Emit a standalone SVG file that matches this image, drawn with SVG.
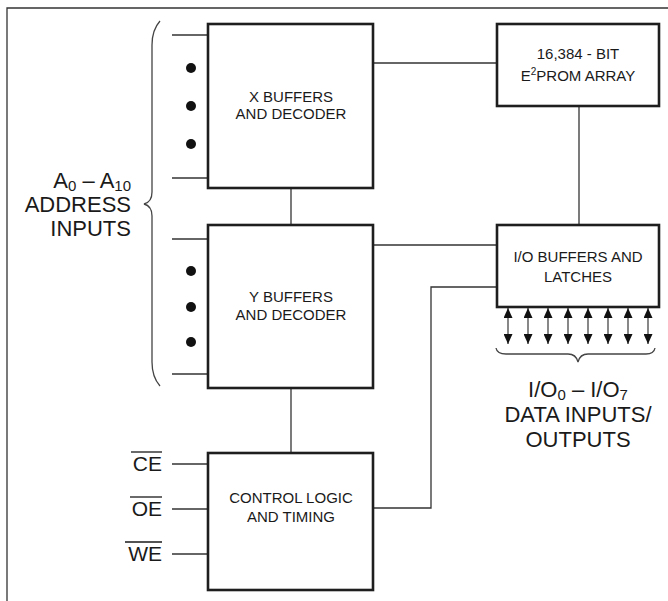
<svg xmlns="http://www.w3.org/2000/svg" width="668" height="601" viewBox="0 0 668 601">
  <style>
    .box { fill: #fff; stroke: #1e1e1e; stroke-width: 2.6; }
    .wire { fill: none; stroke: #333; stroke-width: 1.3; }
    .data { stroke: #555; stroke-width: 1.4; }
    .brace { fill: none; stroke: #444; stroke-width: 1.3; }
    .lbl { font-family: "Liberation Sans", Arial, sans-serif; font-size: 15px; fill: #1a1a1a; text-anchor: middle; }
    .big { font-family: "Liberation Sans", Arial, sans-serif; font-size: 22px; fill: #1a1a1a; }
    .sig { font-family: "Liberation Sans", Arial, sans-serif; font-size: 21px; fill: #1a1a1a; text-anchor: end; }
    .dot { fill: #111; }
  </style>
  <defs>
    <marker id="ah" viewBox="0 0 10 9" refX="10" refY="4.5" markerWidth="10" markerHeight="9" markerUnits="userSpaceOnUse" orient="auto-start-reverse">
      <path d="M0,0 L10,4.5 L0,9 z" fill="#111"/>
    </marker>
  </defs>

  <rect width="668" height="601" fill="#fff"/>
  <!-- frame -->
  <path class="wire" d="M7,601 L7,8 L668,8" stroke="#555"/>

  <!-- connectors -->
  <g id="connectors">
    <!-- address inputs into X -->
    <line class="wire" x1="172" y1="35" x2="208" y2="35"/>
    <line class="wire" x1="172" y1="178" x2="208" y2="178"/>
    <!-- address inputs into Y -->
    <line class="wire" x1="172" y1="239" x2="208" y2="239"/>
    <line class="wire" x1="172" y1="374" x2="208" y2="374"/>
    <!-- X to Y -->
    <line class="wire" x1="291" y1="188" x2="291" y2="225"/>
    <!-- Y to control -->
    <line class="wire" x1="291" y1="388" x2="291" y2="453"/>
    <!-- X to array -->
    <line class="wire" x1="373" y1="63" x2="497" y2="63"/>
    <!-- array to I/O -->
    <line class="wire" x1="579" y1="106" x2="579" y2="225"/>
    <!-- Y to I/O -->
    <line class="wire" x1="373" y1="245" x2="497" y2="245"/>
    <!-- control to I/O -->
    <path class="wire" d="M373,508 L431,508 L431,287 L497,287"/>
    <!-- control signals -->
    <line class="wire" x1="172" y1="464" x2="208" y2="464"/>
    <line class="wire" x1="172" y1="509" x2="208" y2="509"/>
    <line class="wire" x1="172" y1="554" x2="208" y2="554"/>
    <!-- bidirectional data lines -->
    <g class="data" marker-start="url(#ah)" marker-end="url(#ah)">
      <line x1="508" y1="308" x2="508" y2="344"/>
      <line x1="528" y1="308" x2="528" y2="344"/>
      <line x1="548" y1="308" x2="548" y2="344"/>
      <line x1="568" y1="308" x2="568" y2="344"/>
      <line x1="588" y1="308" x2="588" y2="344"/>
      <line x1="608" y1="308" x2="608" y2="344"/>
      <line x1="628" y1="308" x2="628" y2="344"/>
      <line x1="648" y1="308" x2="648" y2="344"/>
    </g>
  </g>

  <!-- address brace and label -->
  <g id="address-inputs">
    <path class="brace" d="M160,21 Q152,30 152,45 L152,192 Q152,202 144,204 Q152,206 152,216 L152,362 Q152,377 160,386"/>
    <circle class="dot" cx="191" cy="68" r="5"/>
    <circle class="dot" cx="191" cy="106" r="5"/>
    <circle class="dot" cx="191" cy="144" r="5"/>
    <circle class="dot" cx="191" cy="271" r="5"/>
    <circle class="dot" cx="191" cy="307" r="5"/>
    <circle class="dot" cx="191" cy="342" r="5"/>
    <text class="big" x="131" y="188" text-anchor="end">A<tspan font-size="15" dy="3">0</tspan><tspan dy="-3"> – A</tspan><tspan font-size="15" dy="3">10</tspan></text>
    <text class="big" x="131" y="212" text-anchor="end">ADDRESS</text>
    <text class="big" x="131" y="236" text-anchor="end">INPUTS</text>
  </g>

  <g id="x-buffers">
    <rect class="box" x="208" y="24" width="165" height="164"/>
    <text class="lbl" x="291" y="102">X BUFFERS</text>
    <text class="lbl" x="291" y="119">AND DECODER</text>
  </g>

  <g id="y-buffers">
    <rect class="box" x="208" y="225" width="165" height="163"/>
    <text class="lbl" x="291" y="302">Y BUFFERS</text>
    <text class="lbl" x="291" y="320">AND DECODER</text>
  </g>

  <g id="control-logic">
    <rect class="box" x="208" y="453" width="165" height="137"/>
    <text class="lbl" x="291" y="503">CONTROL LOGIC</text>
    <text class="lbl" x="291" y="522">AND TIMING</text>
  </g>

  <g id="control-signals">
    <text class="sig" x="162" y="471">CE</text>
    <line x1="131" y1="452" x2="162" y2="452" stroke="#1a1a1a" stroke-width="1.3"/>
    <text class="sig" x="162" y="516">OE</text>
    <line x1="130" y1="497" x2="162" y2="497" stroke="#1a1a1a" stroke-width="1.3"/>
    <text class="sig" x="162" y="561">WE</text>
    <line x1="125" y1="542" x2="162" y2="542" stroke="#1a1a1a" stroke-width="1.3"/>
  </g>

  <g id="eeprom-array">
    <rect class="box" x="497" y="24" width="162" height="82"/>
    <text class="lbl" x="578" y="59">16,384 - BIT</text>
    <text class="lbl" x="578" y="81">E<tspan font-size="10" dy="-6">2</tspan><tspan dy="6">PROM ARRAY</tspan></text>
  </g>

  <g id="io-buffers">
    <rect class="box" x="497" y="225" width="162" height="82"/>
    <text class="lbl" x="578" y="262">I/O BUFFERS AND</text>
    <text class="lbl" x="578" y="282">LATCHES</text>
  </g>

  <g id="data-io">
    <path class="brace" d="M496,348 Q497,354 506,354 L568,354 Q576,354 578,362 Q580,354 588,354 L646,354 Q654,354 655,348"/>
    <text class="big" x="578" y="397" text-anchor="middle">I/O<tspan font-size="15" dy="3">0</tspan><tspan dy="-3"> – I/O</tspan><tspan font-size="15" dy="3">7</tspan></text>
    <text class="big" x="578" y="422" text-anchor="middle">DATA INPUTS/</text>
    <text class="big" x="578" y="447" text-anchor="middle">OUTPUTS</text>
  </g>
</svg>
